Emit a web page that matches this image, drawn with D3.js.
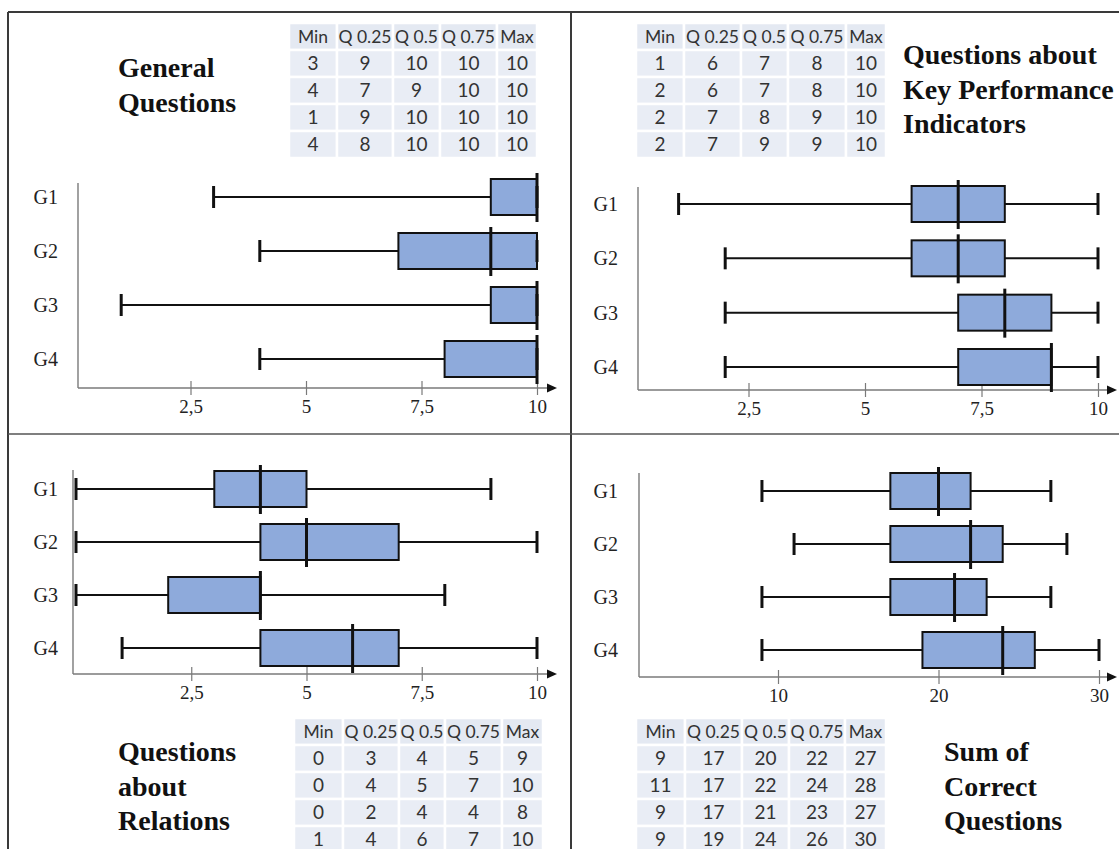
<!DOCTYPE html>
<html>
<head>
<meta charset="utf-8">
<script src="https://cdn.jsdelivr.net/npm/d3@7"></script>
<style>
  body { margin: 0; background: #fff; }
</style>
</head>
<body>
<div id="chart"></div>
<script>
const groups = ["G1", "G2", "G3", "G4"];
const statNames = ["Min", "Q 0.25", "Q 0.5", "Q 0.75", "Max"];

const generalStats  = [[3, 9, 10, 10, 10], [4, 7, 9, 10, 10], [1, 9, 10, 10, 10], [4, 8, 10, 10, 10]];
const kpiStats      = [[1, 6, 7, 8, 10], [2, 6, 7, 8, 10], [2, 7, 8, 9, 10], [2, 7, 9, 9, 10]];
const relationStats = [[0, 3, 4, 5, 9], [0, 4, 5, 7, 10], [0, 2, 4, 4, 8], [1, 4, 6, 7, 10]];
const sumStats      = [[9, 17, 20, 22, 27], [11, 17, 22, 24, 28], [9, 17, 21, 23, 27], [9, 19, 24, 26, 30]];

const scoreTicks = [2.5, 5, 7.5, 10];
const sumTicks = [10, 20, 30];

const width = 1119;
const height = 849;

const svg = d3.select("#chart")
    .append("svg")
    .attr("width", width).attr("height", height);

const serif = "'Liberation Serif', 'Times New Roman', serif";
const boxFill = "#8eaadb";
const fmt = d => String(d).replace(".", ",");

const panels = [
    {title: ["General", "Questions"], titleX: 118, titleY: 77,
     stats: generalStats, tableX: [289, 337, 393, 440, 497, 537], tableY: 23,
     domain: [0, 10], range: [75, 537], ticks: scoreTicks,
     axisX: 78, axisTop: 183, axisY: 388, arrowEnd: 557, yRange: [197, 359], labelEnd: 58},
    {title: ["Questions about", "Key Performance", "Indicators"], titleX: 903, titleY: 64,
     stats: kpiStats, tableX: [636, 684, 741, 788, 846, 886], tableY: 23,
     domain: [0, 10], range: [632, 1098], ticks: scoreTicks,
     axisX: 638, axisTop: 187, axisY: 390, arrowEnd: 1117, yRange: [204, 367], labelEnd: 618},
    {title: ["Questions", "about", "Relations"], titleX: 118, titleY: 761,
     stats: relationStats, tableX: [294, 343, 399, 445, 502, 543], tableY: 718,
     domain: [0, 10], range: [76, 537], ticks: scoreTicks,
     axisX: 73, axisTop: 470, axisY: 674, arrowEnd: 557, yRange: [489, 648], labelEnd: 58},
    {title: ["Sum of", "Correct", "Questions"], titleX: 944, titleY: 761,
     stats: sumStats, tableX: [636, 685, 742, 789, 845, 886], tableY: 718,
     domain: [10, 30], range: [778, 1099], ticks: sumTicks,
     axisX: 639, axisTop: 473, axisY: 677, arrowEnd: 1117, yRange: [491, 650], labelEnd: 618}
];

// frame lines
const frame = svg.append("g").attr("stroke", "#3a3a3a").attr("stroke-width", 2);
frame.append("line").attr("x1", 8).attr("x2", width).attr("y1", 12).attr("y2", 12);
frame.append("line").attr("x1", 8).attr("x2", 8).attr("y1", 12).attr("y2", height);
frame.append("line").attr("x1", 571).attr("x2", 571).attr("y1", 12).attr("y2", height);
frame.append("line").attr("x1", 8).attr("x2", width).attr("y1", 434).attr("y2", 434)
    .attr("stroke", "#555").attr("stroke-width", 1.6);

panels.forEach(p => drawPanel(p));

function drawPanel(p) {
    const g = svg.append("g");
    const x = d3.scaleLinear().domain(p.domain).range(p.range);
    const y = d3.scalePoint().domain(groups).range(p.yRange);

    // title
    const t = g.append("text")
        .attr("x", p.titleX).attr("y", p.titleY)
        .attr("font-family", serif).attr("font-weight", "bold")
        .attr("font-size", 28).attr("fill", "#111");
    t.selectAll("tspan").data(p.title).enter().append("tspan")
        .attr("x", p.titleX)
        .attr("dy", (d, i) => i === 0 ? 0 : 34.5)
        .text(d => d);

    // stats table
    const rowH = 27;
    const rows = [statNames].concat(p.stats);
    const tbl = g.append("g");
    rows.forEach((row, ri) => {
        row.forEach((v, ci) => {
            const x0 = p.tableX[ci], x1 = p.tableX[ci + 1];
            tbl.append("rect")
                .attr("x", x0).attr("y", p.tableY + ri * rowH)
                .attr("width", x1 - x0).attr("height", rowH)
                .attr("fill", ri === 0 ? "#e4e9f2" : "#e9edf5")
                .attr("stroke", "#fff").attr("stroke-width", 2.5);
            tbl.append("text")
                .attr("x", (x0 + x1) / 2).attr("y", p.tableY + ri * rowH + rowH / 2)
                .attr("dy", "0.36em").attr("text-anchor", "middle")
                .attr("font-family", "Lato, 'Open Sans', sans-serif")
                .attr("font-size", ri === 0 ? 17.5 : 19).attr("fill", "#333")
                .text(v);
        });
    });

    // axes
    g.append("line")
        .attr("x1", p.axisX).attr("x2", p.axisX)
        .attr("y1", p.axisTop).attr("y2", p.axisY)
        .attr("stroke", "#7a7a7a").attr("stroke-width", 1.4);
    g.append("line")
        .attr("x1", p.axisX).attr("x2", p.arrowEnd - 8)
        .attr("y1", p.axisY).attr("y2", p.axisY)
        .attr("stroke", "#7a7a7a").attr("stroke-width", 1.4);
    g.append("path")
        .attr("d", `M${p.arrowEnd - 10},${p.axisY - 4.5}L${p.arrowEnd},${p.axisY}L${p.arrowEnd - 10},${p.axisY + 4.5}Z`)
        .attr("fill", "#111");

    const xAxis = g.append("g")
        .attr("transform", `translate(0,${p.axisY})`)
        .call(d3.axisBottom(x).tickValues(p.ticks).tickFormat(fmt).tickSize(7).tickPadding(5))
        .attr("font-family", serif).attr("font-size", 19);
    xAxis.select(".domain").remove();
    xAxis.selectAll(".tick line").attr("y1", -7).attr("stroke", "#7a7a7a").attr("stroke-width", 1.2);
    xAxis.selectAll(".tick text").attr("fill", "#222");

    const yAxis = g.append("g")
        .attr("transform", `translate(${p.labelEnd},0)`)
        .call(d3.axisLeft(y).tickSize(0).tickPadding(0))
        .attr("font-family", serif).attr("font-size", 20);
    yAxis.select(".domain").remove();
    yAxis.selectAll(".tick text").attr("fill", "#222");

    // box plots
    const boxH = 36;
    const plots = g.selectAll(".box")
        .data(p.stats.map((s, i) => ({group: groups[i], min: s[0], q1: s[1], med: s[2], q3: s[3], max: s[4]})))
        .enter().append("g")
        .attr("class", "box")
        .attr("transform", d => `translate(0,${y(d.group)})`);

    plots.append("line")
        .attr("x1", d => x(d.min)).attr("x2", d => x(d.q1))
        .attr("stroke", "#111").attr("stroke-width", 2);
    plots.append("line")
        .attr("x1", d => x(d.q3)).attr("x2", d => x(d.max))
        .attr("stroke", "#111").attr("stroke-width", 2);
    plots.append("rect")
        .attr("x", d => x(d.q1)).attr("y", -boxH / 2)
        .attr("width", d => x(d.q3) - x(d.q1)).attr("height", boxH)
        .attr("fill", boxFill).attr("stroke", "#111").attr("stroke-width", 2);
    plots.append("line")
        .attr("x1", d => x(d.med)).attr("x2", d => x(d.med))
        .attr("y1", -boxH / 2 - 6).attr("y2", boxH / 2 + 7)
        .attr("stroke", "#111").attr("stroke-width", 3);
    ["min", "max"].forEach(k => {
        plots.append("line")
            .attr("x1", d => x(d[k])).attr("x2", d => x(d[k]))
            .attr("y1", -11).attr("y2", 11)
            .attr("stroke", "#111").attr("stroke-width", 3);
    });
}
</script>
</body>
</html>
